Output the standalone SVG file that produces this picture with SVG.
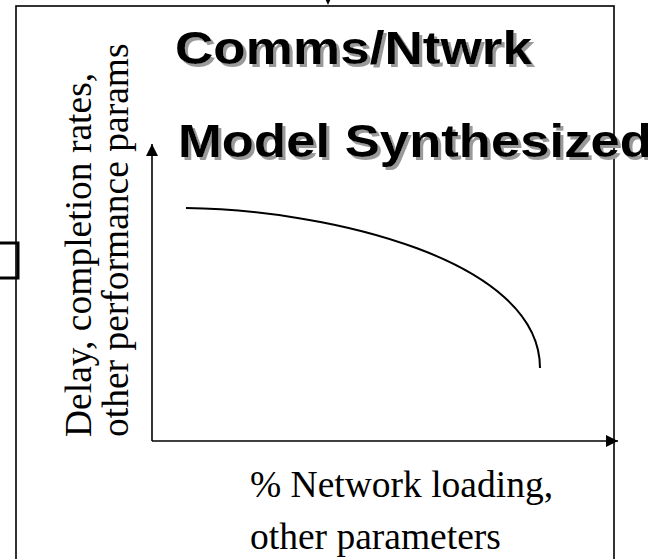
<svg xmlns="http://www.w3.org/2000/svg" width="648" height="559" viewBox="0 0 648 559">
  <style>
    .frame { fill: none; stroke: #000; stroke-width: 1.6; }
    .axis { fill: none; stroke: #000; stroke-width: 1.6; }
    .curve { fill: none; stroke: #000; stroke-width: 2; }
    .serif { font-family: "Liberation Serif", "Times New Roman", serif; font-size: 37.5px; fill: #000; }
    .title { font-family: "Liberation Sans", Arial, sans-serif; font-weight: bold; font-size: 47px; fill: #000; filter: url(#shade); }
  </style>
  <defs>
    <!-- grey drop shadow for the heading -->
    <filter id="shade" x="-5%" y="-20%" width="115%" height="150%">
      <feOffset in="SourceAlpha" dx="3" dy="3" result="off"/>
      <feFlood flood-color="#9a9a9a"/>
      <feComposite in2="off" operator="in" result="shadow"/>
      <feMerge>
        <feMergeNode in="shadow"/>
        <feMergeNode in="SourceGraphic"/>
      </feMerge>
    </filter>
    <marker id="head" viewBox="0 0 12 12" refX="12" refY="6" markerWidth="12" markerHeight="12" markerUnits="userSpaceOnUse" orient="auto">
      <path d="M0,0 L12,6 L0,12 Z" fill="#000"/>
    </marker>
  </defs>

  <rect width="648" height="559" fill="#fff"/>

  <!-- outer panel -->
  <g id="panel">
    <rect class="frame" x="16" y="6" width="598" height="570"/>
  </g>

  <!-- small port box on the left edge -->
  <g id="port">
    <rect x="-4" y="243" width="22" height="35" fill="none" stroke="#000" stroke-width="3"/>
  </g>

  <!-- heading -->
  <g id="title">
    <text class="title" x="175" y="64" textLength="357" lengthAdjust="spacingAndGlyphs">Comms/Ntwrk</text>
    <text class="title" x="178" y="157" textLength="474" lengthAdjust="spacingAndGlyphs">Model Synthesized</text>
  </g>

  <!-- vertical axis label -->
  <g id="y-label">
    <text class="serif" transform="translate(91,437) rotate(-90)">Delay, completion rates,</text>
    <text class="serif" transform="translate(128,437) rotate(-90)">other performance params</text>
  </g>

  <!-- horizontal axis label -->
  <g id="x-label">
    <text class="serif" x="250" y="497">% Network loading,</text>
    <text class="serif" x="250" y="549">other parameters</text>
  </g>

  <!-- axes and response curve -->
  <g id="chart">
    <path class="axis" d="M152,441 L152,144" marker-end="url(#head)"/>
    <path class="axis" d="M152,441 L618,441" marker-end="url(#head)"/>
    <path class="curve" d="M186,208 C330,210 540,260 540,368"/>
  </g>

  <!-- incoming connector at the top edge -->
  <g id="connectors">
    <path d="M323,-6 L333,-6 L328,5 Z" fill="#000"/>
  </g>
</svg>
